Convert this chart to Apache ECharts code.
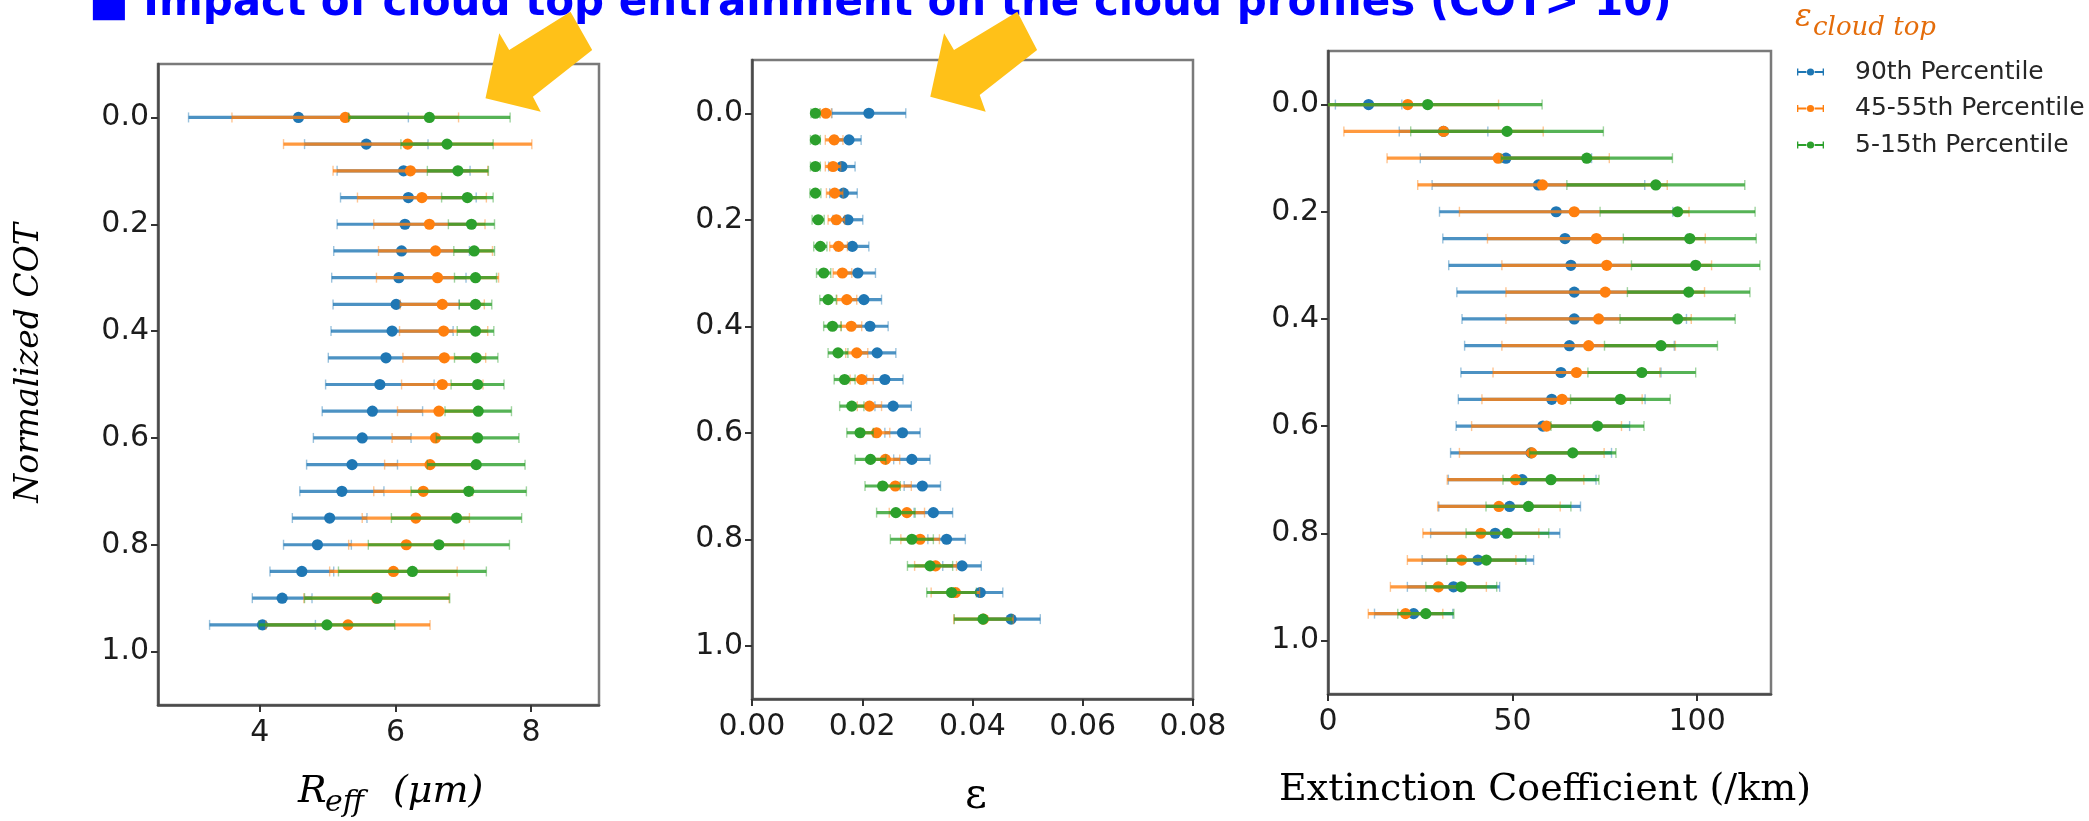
<!DOCTYPE html>
<html>
<head>
<meta charset="utf-8">
<script src="https://cdn.jsdelivr.net/npm/echarts@6/dist/echarts.min.js"></script>
<style>
  html, body { margin: 0; padding: 0; background: #ffffff; }
  #chart { width: 2089px; height: 821px; }
</style>
</head>
<body>
<div id="chart"></div>
<script>
// Normalized COT levels (0 = cloud top, 1 = cloud base)
const cotLevels = [0.00, 0.05, 0.10, 0.15, 0.20, 0.25, 0.30, 0.35, 0.40, 0.45,
                   0.50, 0.55, 0.60, 0.65, 0.70, 0.75, 0.80, 0.85, 0.90, 0.95];

const percentileNames = ['90th Percentile', '45-55th Percentile', '5-15th Percentile'];
const percentileColors = ['#1f77b4', '#ff7f0e', '#2ca02c'];

// Effective radius (um): mean and spread per level
const reffMean90 = [4.57, 5.57, 6.12, 6.19, 6.14, 6.09, 6.05, 6.01, 5.95, 5.86, 5.77, 5.66, 5.51, 5.36, 5.21, 5.03, 4.85, 4.62, 4.33, 4.04];
const reffErr90  = [1.62, 0.91, 0.98, 1.00, 1.00, 1.00, 0.99, 0.93, 0.90, 0.85, 0.80, 0.74, 0.72, 0.67, 0.62, 0.55, 0.50, 0.47, 0.44, 0.78];
const reffMean50 = [5.26, 6.18, 6.22, 6.39, 6.50, 6.59, 6.62, 6.69, 6.71, 6.72, 6.69, 6.64, 6.59, 6.51, 6.41, 6.30, 6.16, 5.97, 5.72, 5.30];
const reffErr50  = [1.67, 1.83, 1.14, 0.95, 0.82, 0.84, 0.90, 0.62, 0.65, 0.61, 0.60, 0.61, 0.64, 0.67, 0.73, 0.79, 0.85, 0.94, 1.07, 1.21];
const reffMean10 = [6.50, 6.76, 6.92, 7.06, 7.12, 7.16, 7.18, 7.18, 7.18, 7.19, 7.21, 7.22, 7.21, 7.19, 7.08, 6.90, 6.64, 6.25, 5.73, 4.99];
const reffErr10  = [1.19, 0.68, 0.45, 0.38, 0.34, 0.30, 0.31, 0.24, 0.27, 0.32, 0.39, 0.49, 0.61, 0.72, 0.85, 0.96, 1.04, 1.09, 1.07, 1.00];

// Entrainment rate epsilon: mean and spread per level
const epsMean90 = [0.0212, 0.0176, 0.0163, 0.0166, 0.0174, 0.0182, 0.0192, 0.0203, 0.0214, 0.0227, 0.0241, 0.0256, 0.0273, 0.0290, 0.0309, 0.0329, 0.0353, 0.0381, 0.0414, 0.0470];
const epsErr90  = [0.0067, 0.0022, 0.0024, 0.0025, 0.0027, 0.0030, 0.0032, 0.0032, 0.0033, 0.0034, 0.0033, 0.0033, 0.0032, 0.0033, 0.0033, 0.0035, 0.0034, 0.0035, 0.0041, 0.0053];
const epsMean50 = [0.0134, 0.0149, 0.0147, 0.0150, 0.0153, 0.0157, 0.0164, 0.0172, 0.0180, 0.0190, 0.0199, 0.0213, 0.0226, 0.0242, 0.0260, 0.0281, 0.0305, 0.0333, 0.0369, 0.0420];
const epsErr50  = [0.0010, 0.0016, 0.0014, 0.0015, 0.0015, 0.0016, 0.0017, 0.0018, 0.0019, 0.0020, 0.0021, 0.0022, 0.0024, 0.0026, 0.0029, 0.0032, 0.0035, 0.0038, 0.0044, 0.0054];
const epsMean10 = [0.0115, 0.0115, 0.0115, 0.0115, 0.0120, 0.0124, 0.0130, 0.0138, 0.0146, 0.0156, 0.0168, 0.0181, 0.0196, 0.0215, 0.0237, 0.0261, 0.0290, 0.0323, 0.0362, 0.0419];
const epsErr10  = [0.0008, 0.0009, 0.0009, 0.0010, 0.0011, 0.0012, 0.0013, 0.0015, 0.0016, 0.0018, 0.0019, 0.0022, 0.0024, 0.0028, 0.0032, 0.0035, 0.0039, 0.0041, 0.0045, 0.0052];

// Extinction coefficient (/km): mean and spread per level
const extMean90 = [11.0, 31.3, 48.2, 57.0, 61.8, 64.2, 65.8, 66.7, 66.7, 65.4, 63.1, 60.6, 58.2, 55.0, 52.6, 49.2, 45.3, 40.6, 34.0, 23.2];
const extErr90  = [ 9.0, 12.0, 23.2, 28.8, 31.6, 33.1, 33.1, 31.8, 30.4, 28.4, 27.1, 25.3, 23.5, 21.8, 20.0, 19.2, 17.5, 15.1, 12.5, 10.6];
const extMean50 = [21.6, 31.3, 46.1, 58.1, 66.7, 72.7, 75.5, 75.1, 73.3, 70.6, 67.3, 63.4, 59.2, 55.2, 50.8, 46.3, 41.4, 36.2, 29.9, 21.0];
const extErr50  = [24.6, 27.0, 30.1, 33.8, 31.1, 29.5, 28.4, 26.9, 25.1, 23.5, 22.6, 21.7, 20.3, 19.6, 18.5, 16.6, 15.7, 14.7, 13.0, 10.1];
const extMean10 = [27.0, 48.5, 70.1, 88.8, 94.7, 98.0, 99.6, 97.7, 94.7, 90.2, 85.0, 79.2, 73.0, 66.3, 60.4, 54.3, 48.6, 42.9, 36.1, 26.5];
const extErr10  = [31.0, 26.1, 23.2, 24.1, 21.0, 18.0, 17.4, 16.6, 15.6, 15.3, 14.6, 13.5, 12.6, 11.7, 13.0, 11.5, 11.2, 10.7,  9.6,  7.6];

// Tick values
const cotTicks = [0.0, 0.2, 0.4, 0.6, 0.8, 1.0];
const reffTicks = [4, 6, 8];
const epsTicks = [0.00, 0.02, 0.04, 0.06, 0.08];
const extTicks = [0, 50, 100];

const panels = [
  { means: [reffMean90, reffMean50, reffMean10], errs: [reffErr90, reffErr50, reffErr10],
    xMin: 2.5, xMax: 9.0, ticks: reffTicks, fmt: v => String(v) },
  { means: [epsMean90, epsMean50, epsMean10], errs: [epsErr90, epsErr50, epsErr10],
    xMin: 0, xMax: 0.08, ticks: epsTicks, fmt: v => v.toFixed(2) },
  { means: [extMean90, extMean50, extMean10], errs: [extErr90, extErr50, extErr10],
    xMin: 0, xMax: 120, ticks: extTicks, fmt: v => String(v) }
];

const grids = [
  { left: 158, top: 64, width: 441, height: 641 },
  { left: 752, top: 60, width: 441, height: 639 },
  { left: 1328, top: 51, width: 443, height: 643 }
];

const tickFont = { fontFamily: 'DejaVu Sans', fontSize: 30, color: '#1c1c1c' };

// Horizontal error bar with end caps and a marker at the mean
function makeErrorBar(color) {
  return function (params, api) {
    const mean = api.value(0), level = api.value(1), spread = api.value(2);
    const mid = api.coord([mean, level]);
    const lo = api.coord([mean - spread, level]);
    const hi = api.coord([mean + spread, level]);
    const box = params.coordSys;
    const left = Math.max(lo[0], box.x);
    const right = Math.min(hi[0], box.x + box.width);
    const y = mid[1];
    const kids = [{
      type: 'line',
      shape: { x1: left, y1: y, x2: right, y2: y },
      style: { stroke: color, lineWidth: 3.2, opacity: 0.8 }
    }];
    [lo[0], hi[0]].forEach(function (x) {
      if (x >= box.x - 0.5 && x <= box.x + box.width + 0.5) {
        kids.push({
          type: 'line',
          shape: { x1: x, y1: y - 5, x2: x, y2: y + 5 },
          style: { stroke: color, lineWidth: 1.4, opacity: 0.45 }
        });
      }
    });
    kids.push({ type: 'circle', shape: { cx: mid[0], cy: y, r: 5.6 }, style: { fill: color } });
    return { type: 'group', children: kids };
  };
}

const xAxes = [], yAxes = [], series = [];
panels.forEach(function (p, pi) {
  xAxes.push({
    type: 'value', gridIndex: pi, min: p.xMin, max: p.xMax,
    axisLine: { show: true, onZero: false, lineStyle: { color: '#4a4a4a', width: 2.5 } },
    axisTick: { show: true, length: 7, customValues: p.ticks, lineStyle: { color: '#333', width: 2 } },
    axisLabel: Object.assign({ customValues: p.ticks, margin: 13, formatter: p.fmt }, tickFont),
    splitLine: { show: false }
  });
  yAxes.push({
    type: 'value', gridIndex: pi, min: -0.1, max: 1.1, inverse: true,
    axisLine: { show: true, onZero: false, lineStyle: { color: '#4a4a4a', width: 2.5 } },
    axisTick: { show: true, length: 7, customValues: cotTicks, lineStyle: { color: '#333', width: 2 } },
    axisLabel: Object.assign({ customValues: cotTicks, margin: 9, formatter: v => v.toFixed(1) }, tickFont),
    splitLine: { show: false }
  });
  for (let k = 0; k < 3; k++) {
    series.push({
      type: 'custom',
      name: percentileNames[k],
      xAxisIndex: pi,
      yAxisIndex: pi,
      itemStyle: { color: percentileColors[k] },
      encode: { x: 0, y: 1 },
      data: cotLevels.map((lvl, i) => [p.means[k][i], lvl, p.errs[k][i]]),
      renderItem: makeErrorBar(percentileColors[k]),
      silent: true
    });
  }
});

function txt(x, y, text, opts) {
  const st = Object.assign({
    text: text, x: 0, y: 0,
    align: 'left', textAlign: 'left',
    verticalAlign: 'middle', textVerticalAlign: 'middle'
  }, opts);
  return { type: 'text', x: x, y: y, silent: true, z: 100, style: st };
}

const arrowColor = '#FFC118';
const graphics = [
  // page heading
  txt(89, 4.5, '\u25A0 Impact of cloud top entrainment on the cloud profiles (COT> 10)', {
    fontFamily: 'DejaVu Sans', fontWeight: 'bold', fontSize: 42, fill: '#0000FF'
  }),
  // highlight arrows
  { type: 'polygon', z: 100, silent: true,
    shape: { points: [[570.5, 11.7], [592.2, 50], [532.9, 96.7], [540.8, 111.7], [485.5, 98.3], [499.3, 33.3], [509.2, 50]] },
    style: { fill: arrowColor } },
  { type: 'polygon', z: 100, silent: true,
    shape: { points: [[1017.3, 11.7], [1037.1, 50], [979.7, 95], [985.7, 111.7], [930.3, 96.7], [944.1, 33.3], [954.0, 50]] },
    style: { fill: arrowColor } },
  // y axis name
  Object.assign(txt(29, 363, 'Normalized COT', {
    fontFamily: 'DejaVu Serif', fontStyle: 'italic', fontSize: 33, fill: '#000',
    align: 'center', textAlign: 'center'
  }), { rotation: Math.PI / 2 }),
  // x axis names
  txt(298, 792, 'R', { fontFamily: 'DejaVu Serif', fontStyle: 'italic', fontSize: 38, fill: '#000' }),
  txt(325, 803, 'eff', { fontFamily: 'DejaVu Serif', fontStyle: 'italic', fontSize: 30, fill: '#000' }),
  txt(393, 792, '(\u03BCm)', { fontFamily: 'DejaVu Serif', fontStyle: 'italic', fontSize: 38, fill: '#000' }),
  txt(976, 797, '\u03B5', { fontFamily: 'DejaVu Serif', fontSize: 42, fill: '#000', align: 'center', textAlign: 'center' }),
  txt(1545, 790, 'Extinction Coefficient (/km)', { fontFamily: 'DejaVu Serif', fontSize: 38, fill: '#000', align: 'center', textAlign: 'center' }),
  // legend heading
  txt(1795, 18, '\u03B5', { fontFamily: 'DejaVu Serif', fontStyle: 'italic', fontSize: 31, fill: '#E46C0A' }),
  txt(1813, 28, 'cloud top', { fontFamily: 'DejaVu Serif', fontStyle: 'italic', fontSize: 26, fill: '#E46C0A' })
];

const option = {
  backgroundColor: '#ffffff',
  animation: false,
  grid: grids.map(g => Object.assign({ show: true, borderColor: '#7a7a7a', borderWidth: 2.5, backgroundColor: 'transparent' }, g)),
  xAxis: xAxes,
  yAxis: yAxes,
  legend: {
    orient: 'vertical', left: 1797, top: 57, padding: 0,
    itemWidth: 27, itemHeight: 11, itemGap: 6.5,
    icon: 'path://M0,2H1.5V10H0Z M1.5,5H10.5V7H1.5Z M19.5,5H28.5V7H19.5Z M28.5,2H30V10H28.5Z M11,6A4,4 0 1 1 19,6A4,4 0 1 1 11,6Z',
    selectedMode: false,
    data: percentileNames,
    textStyle: { fontFamily: 'DejaVu Sans', fontSize: 25, color: '#262626', lineHeight: 30, padding: [0, 0, 0, 26] }
  },
  graphic: { elements: graphics },
  series: series
};

const chart = echarts.init(document.getElementById('chart'));
chart.setOption(option);
</script>
</body>
</html>
